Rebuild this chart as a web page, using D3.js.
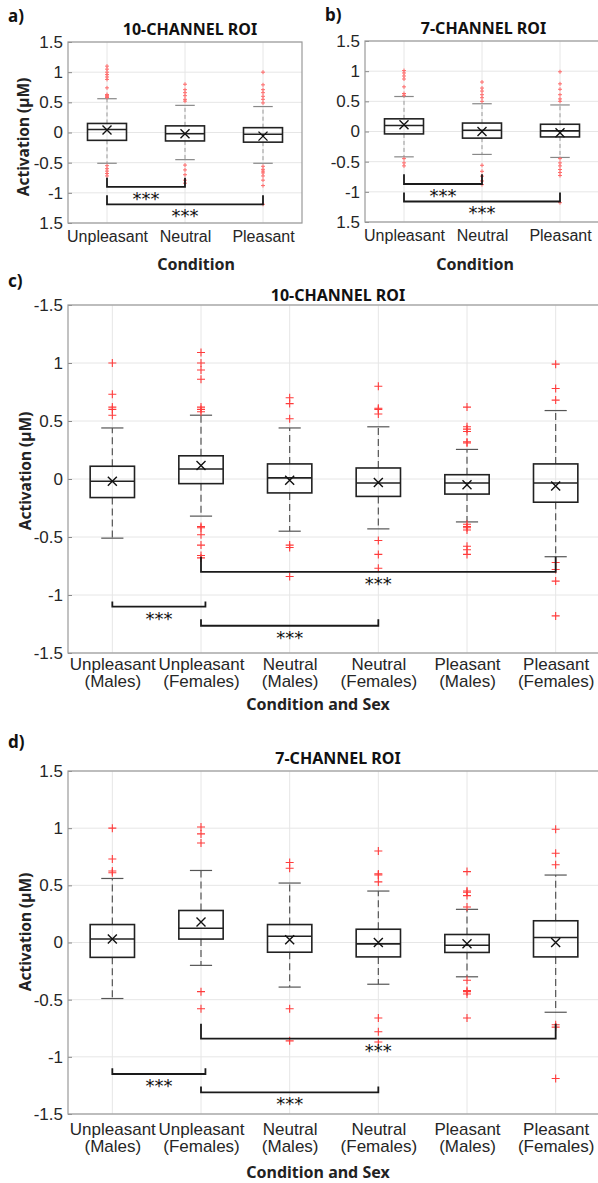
<!DOCTYPE html>
<html>
<head>
<meta charset="utf-8">
<title>Activation boxplots</title>
<script src="https://d3js.org/d3.v7.min.js"></script>
<style>
  body { margin: 0; background: #fff; }
  .tick text { fill: #262626; }
</style>
</head>
<body>
<div id="chart"></div>
<script>
// categories and tick labels
var condLabels = ["Unpleasant", "Neutral", "Pleasant"];
var sexLabels = [["Unpleasant", "(Males)"], ["Unpleasant", "(Females)"], ["Neutral", "(Males)"],
                 ["Neutral", "(Females)"], ["Pleasant", "(Males)"], ["Pleasant", "(Females)"]];
var yTickValues = [1.5, 1, 0.5, 0, -0.5, -1, -1.5];
var yTickTextAB = ["1.5", "1", "0.5", "0", "-0.5", "-1", "1.5"];
var yTickTextC = ["-1.5", "1", "0.5", "0", "-0.5", "-1", "-1.5"];
var yTickTextD = ["1.5", "1", "0.5", "0", "-0.5", "-1", "-1.5"];

// box stats per category: [lower whisker, q1, median, q3, upper whisker, mean]
var boxA = [[-0.51, -0.13, 0.05, 0.15, 0.56, 0.04],
            [-0.45, -0.14, -0.02, 0.11, 0.45, -0.02],
            [-0.51, -0.16, -0.03, 0.08, 0.43, -0.06]];
var boxB = [[-0.42, -0.04, 0.10, 0.21, 0.58, 0.11],
            [-0.38, -0.11, 0.02, 0.14, 0.46, 0.0],
            [-0.43, -0.09, 0.01, 0.12, 0.44, -0.02]];
var boxC = [[-0.51, -0.16, -0.02, 0.11, 0.44, -0.02],
            [-0.32, -0.04, 0.086, 0.20, 0.55, 0.117],
            [-0.45, -0.12, 0.01, 0.13, 0.44, -0.01],
            [-0.43, -0.15, -0.035, 0.095, 0.45, -0.03],
            [-0.37, -0.13, -0.035, 0.037, 0.255, -0.05],
            [-0.67, -0.20, -0.035, 0.13, 0.59, -0.06]];
var boxD = [[-0.49, -0.13, 0.03, 0.157, 0.56, 0.03],
            [-0.20, 0.03, 0.125, 0.28, 0.63, 0.18],
            [-0.39, -0.085, 0.055, 0.157, 0.52, 0.025],
            [-0.365, -0.126, -0.012, 0.116, 0.45, 0.0],
            [-0.30, -0.087, -0.024, 0.07, 0.29, -0.01],
            [-0.61, -0.126, 0.044, 0.19, 0.59, 0.0]];

// outliers per category
var outA = [[1.1, 1.05, 1.0, 0.96, 0.92, 0.88, 0.74, 0.63, 0.61, 0.6, 0.58, -0.55, -0.6, -0.64, -0.68, -0.72],
            [0.8, 0.71, 0.66, 0.61, 0.55, 0.52, -0.54, -0.62, -0.7, -0.79, -0.84],
            [1.0, 0.79, 0.71, 0.66, 0.6, 0.55, 0.49, -0.56, -0.61, -0.64, -0.67, -0.72, -0.79, -0.88, -1.19]];
var outB = [[1.01, 0.97, 0.92, 0.87, 0.74, 0.63, 0.6, -0.45, -0.52, -0.57],
            [0.82, 0.72, 0.67, 0.61, 0.56, 0.5, -0.56, -0.66, -0.74, -0.82, -0.88],
            [0.99, 0.79, 0.7, 0.61, 0.54, 0.5, -0.45, -0.52, -0.57, -0.63, -0.68, -0.73, -1.18]];
var outC = [[1.0, 0.73, 0.62, 0.6, 0.55],
            [1.09, 1.0, 0.94, 0.86, 0.62, 0.6, 0.58, -0.41, -0.42, -0.48, -0.57, -0.66, -0.68],
            [0.70, 0.65, 0.52, -0.57, -0.59, -0.84],
            [0.80, 0.61, 0.60, 0.56, -0.53, -0.65, -0.77],
            [0.62, 0.45, 0.43, 0.41, 0.32, 0.31, -0.39, -0.41, -0.42, -0.44, -0.58, -0.61, -0.65],
            [0.99, 0.78, 0.68, -0.72, -0.78, -0.88, -1.18]];
var outD = [[1.0, 0.73, 0.625, 0.61],
            [1.01, 0.95, 0.87, -0.43, -0.58],
            [0.70, 0.65, -0.58, -0.86],
            [0.80, 0.60, 0.59, 0.53, -0.66, -0.78, -0.87],
            [0.62, 0.45, 0.44, 0.41, 0.31, -0.33, -0.42, -0.43, -0.45, -0.66],
            [0.99, 0.78, 0.68, -0.72, -0.74, -1.19]];

// significance brackets: [from category, to category, line value, tick top value]
var brA = [[0, 1, -0.9, -0.75], [0, 2, -1.19, -1.04]];
var brB = [[0, 1, -0.87, -0.71], [0, 2, -1.16, -1.01]];
var brC = [[1, 5, -0.80, -0.67], [0, 1.05, -1.10, -1.055], [1, 3, -1.265, -1.21]];
var brD = [[1, 5, -0.84, -0.71], [0, 1.05, -1.15, -1.10], [1, 3, -1.31, -1.26]];

var W = 598, H = 1183;
var svg = d3.select("#chart").append("svg")
    .attr("width", W).attr("height", H)
    .style("font-family", "'Liberation Sans', Arial, sans-serif");
svg.append("rect").attr("width", W).attr("height", H).attr("fill", "#fff");

var boldFont = "'Noto Sans', 'Open Sans', sans-serif";

function drawPanel(p) {
    var n = p.cats.length;
    var x = d3.scaleLinear().domain([0.5, n + 0.5]).range([p.left, p.right]);
    var y = d3.scaleLinear().domain([-1.5, 1.5]).range([p.bottom, p.top]);
    var unit = x(1) - x(0);
    var g = svg.append("g");

    // grid
    g.selectAll(".gx").data(d3.range(n)).enter().append("line")
        .attr("x1", function (i) { return x(i + 1); }).attr("x2", function (i) { return x(i + 1); })
        .attr("y1", p.top).attr("y2", p.bottom)
        .attr("stroke", "#e6e6e6").attr("stroke-width", 1);
    g.selectAll(".gy").data(yTickValues).enter().append("line")
        .attr("x1", p.left).attr("x2", p.right)
        .attr("y1", function (d) { return y(d); }).attr("y2", function (d) { return y(d); })
        .attr("stroke", "#e6e6e6").attr("stroke-width", 1);

    // y axis, ticks pointing inwards
    var yAxis = d3.axisLeft(y).tickValues(yTickValues).tickSize(-4).tickPadding(5)
        .tickFormat(function (d, i) { return p.yText[i]; });
    var ya = g.append("g").attr("transform", "translate(" + p.left + ",0)").call(yAxis);
    ya.select(".domain").remove();
    ya.selectAll("line").attr("stroke", "#8a8a8a");
    ya.selectAll("text").attr("font-size", 17).attr("font-family", "'Liberation Sans', Arial, sans-serif");

    // x axis
    var xAxis = d3.axisBottom(x).tickValues(d3.range(1, n + 1)).tickSize(0).tickFormat("");
    var xa = g.append("g").attr("transform", "translate(0," + p.bottom + ")").call(xAxis);
    xa.select(".domain").remove();
    xa.selectAll(".tick").each(function (d) {
        var lines = p.cats[d - 1];
        if (!Array.isArray(lines)) lines = [lines];
        var t = d3.select(this).append("text")
            .attr("fill", "#262626").attr("font-size", p.xFont)
            .attr("text-anchor", "middle")
            .attr("font-family", "'Liberation Sans', Arial, sans-serif");
        lines.forEach(function (s, k) {
            t.append("tspan").attr("x", 0).attr("y", p.xLineY[k]).text(s);
        });
    });

    // box frame
    g.append("rect").attr("x", p.left).attr("y", p.top)
        .attr("width", p.right - p.left).attr("height", p.bottom - p.top)
        .attr("fill", "none").attr("stroke", "#9a9a9a").attr("stroke-width", 1.2);

    var bw = unit * 0.5, cw = unit * 0.25;
    var big = p.big;

    // whiskers
    var bx = g.selectAll(".box").data(p.boxes).enter().append("g");
    bx.append("line")
        .attr("x1", function (d, i) { return x(i + 1); }).attr("x2", function (d, i) { return x(i + 1); })
        .attr("y1", function (d) { return y(d[3]); }).attr("y2", function (d) { return y(d[4]); })
        .attr("stroke", big ? "#555" : "#999").attr("stroke-width", big ? 1.2 : 1)
        .attr("stroke-dasharray", big ? "7,4" : "4,3");
    bx.append("line")
        .attr("x1", function (d, i) { return x(i + 1); }).attr("x2", function (d, i) { return x(i + 1); })
        .attr("y1", function (d) { return y(d[1]); }).attr("y2", function (d) { return y(d[0]); })
        .attr("stroke", big ? "#555" : "#999").attr("stroke-width", big ? 1.2 : 1)
        .attr("stroke-dasharray", big ? "7,4" : "4,3");
    [0, 4].forEach(function (k) {
        bx.append("line")
            .attr("x1", function (d, i) { return x(i + 1) - cw / 2; })
            .attr("x2", function (d, i) { return x(i + 1) + cw / 2; })
            .attr("y1", function (d) { return y(d[k]); }).attr("y2", function (d) { return y(d[k]); })
            .attr("stroke", big ? "#555" : "#888").attr("stroke-width", 1.2);
    });
    // boxes
    bx.append("rect")
        .attr("x", function (d, i) { return x(i + 1) - bw / 2; })
        .attr("y", function (d) { return y(d[3]); })
        .attr("width", bw)
        .attr("height", function (d) { return y(d[1]) - y(d[3]); })
        .attr("fill", "none").attr("stroke", "#222").attr("stroke-width", 1.6);
    bx.append("line")
        .attr("x1", function (d, i) { return x(i + 1) - bw / 2; })
        .attr("x2", function (d, i) { return x(i + 1) + bw / 2; })
        .attr("y1", function (d) { return y(d[2]); }).attr("y2", function (d) { return y(d[2]); })
        .attr("stroke", "#222").attr("stroke-width", 1.6);
    // mean markers
    var m = 4.5;
    bx.append("path")
        .attr("d", function (d, i) {
            var cx = x(i + 1), cy = y(d[5]);
            return "M" + (cx - m) + "," + (cy - m) + "L" + (cx + m) + "," + (cy + m) +
                   "M" + (cx - m) + "," + (cy + m) + "L" + (cx + m) + "," + (cy - m);
        })
        .attr("stroke", "#111").attr("stroke-width", 1.4).attr("fill", "none");

    // outliers
    var pts = [];
    p.outliers.forEach(function (arr, i) { arr.forEach(function (v) { pts.push([i + 1, v]); }); });
    var s = big ? 4 : 2;
    g.selectAll(".out").data(pts).enter().append("path")
        .attr("d", function (d) {
            var cx = x(d[0]), cy = y(d[1]);
            return "M" + (cx - s) + "," + cy + "L" + (cx + s) + "," + cy +
                   "M" + cx + "," + (cy - s) + "L" + cx + "," + (cy + s);
        })
        .attr("stroke", big ? "#ff3b3b" : "#ff6b6b").attr("stroke-width", big ? 1.1 : 1)
        .attr("fill", "none");

    // brackets
    var br = g.selectAll(".br").data(p.brackets).enter().append("g");
    br.append("path")
        .attr("d", function (d) {
            var x1 = x(d[0] + 1), x2 = x(d[1] + 1), yl = y(d[2]), yt = y(d[3]);
            return "M" + x1 + "," + yt + "L" + x1 + "," + yl + "L" + x2 + "," + yl + "L" + x2 + "," + yt;
        })
        .attr("stroke", "#1a1a1a").attr("stroke-width", 1.8).attr("fill", "none");
    br.append("text")
        .attr("x", function (d) { return (x(d[0] + 1) + x(d[1] + 1)) / 2; })
        .attr("y", function (d) { return y(d[2]) + 18; })
        .attr("text-anchor", "middle")
        .attr("font-family", "'DejaVu Sans', sans-serif").attr("font-size", 18)
        .attr("fill", "#111").text("***");

    // titles and labels
    svg.append("text").attr("x", (p.left + Math.min(p.right, W)) / 2 + p.titleDx).attr("y", p.titleY)
        .attr("text-anchor", "middle").attr("font-family", boldFont)
        .attr("font-weight", 700).attr("font-size", 16).attr("fill", "#111").text(p.title);
    svg.append("text").attr("x", p.tagX).attr("y", p.tagY)
        .attr("font-family", boldFont).attr("font-weight", 700)
        .attr("font-size", 17).attr("fill", "#111").text(p.tag);
    svg.append("text").attr("x", p.xTitleX).attr("y", p.xTitleY)
        .attr("text-anchor", "middle").attr("font-family", boldFont)
        .attr("font-weight", 700).attr("font-size", 16).attr("fill", "#222").text(p.xTitle);
    if (p.yTitle) {
        svg.append("text")
            .attr("transform", "translate(" + p.yTitleX + "," + p.yTitleY + ") rotate(-90)")
            .attr("text-anchor", "middle").attr("dominant-baseline", "central")
            .attr("font-family", boldFont).attr("font-weight", 700)
            .attr("font-size", 15.5).attr("fill", "#222").text(p.yTitle);
    }
}

drawPanel({ left: 68, right: 302, top: 42, bottom: 223, cats: condLabels, boxes: boxA,
    outliers: outA, brackets: brA, yText: yTickTextAB, big: false, xFont: 16, xLineY: [19],
    title: "10-CHANNEL ROI", titleY: 35, titleDx: 5, tag: "a)", tagX: 8, tagY: 22,
    xTitle: "Condition", xTitleX: 196, xTitleY: 270,
    yTitle: "Activation (\u00b5M)", yTitleX: 23, yTitleY: 137 });

drawPanel({ left: 365, right: 599, top: 41, bottom: 222, cats: condLabels, boxes: boxB,
    outliers: outB, brackets: brB, yText: yTickTextAB, big: false, xFont: 16, xLineY: [19],
    title: "7-CHANNEL ROI", titleY: 34, titleDx: 2, tag: "b)", tagX: 325, tagY: 21,
    xTitle: "Condition", xTitleX: 475, xTitleY: 270, yTitle: null });

drawPanel({ left: 68, right: 600, top: 305, bottom: 653, cats: sexLabels, boxes: boxC,
    outliers: outC, brackets: brC, yText: yTickTextC, big: true, xFont: 17, xLineY: [17, 34],
    title: "10-CHANNEL ROI", titleY: 301, titleDx: 5, tag: "c)", tagX: 8, tagY: 287,
    xTitle: "Condition and Sex", xTitleX: 318, xTitleY: 710,
    yTitle: "Activation (\u00b5M)", yTitleX: 25, yTitleY: 471 });

drawPanel({ left: 68, right: 600, top: 771, bottom: 1114, cats: sexLabels, boxes: boxD,
    outliers: outD, brackets: brD, yText: yTickTextD, big: true, xFont: 17, xLineY: [21, 38],
    title: "7-CHANNEL ROI", titleY: 764, titleDx: 5, tag: "d)", tagX: 8, tagY: 748,
    xTitle: "Condition and Sex", xTitleX: 318, xTitleY: 1178,
    yTitle: "Activation (\u00b5M)", yTitleX: 25, yTitleY: 932 });
</script>
</body>
</html>
